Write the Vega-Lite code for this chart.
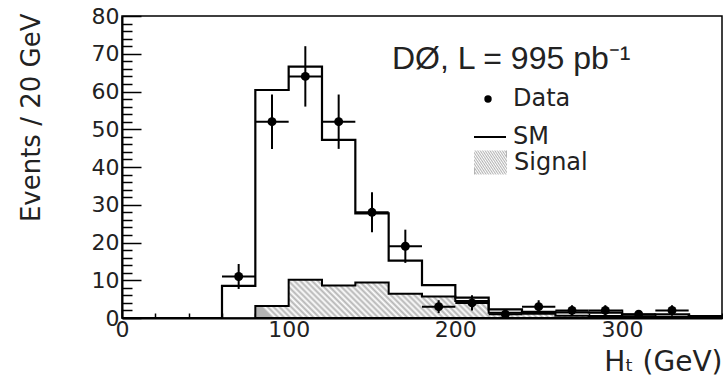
{
  "$schema": "https://vega.github.io/schema/vega-lite/v6.json",
  "width": 600,
  "height": 302,
  "autosize": {"type": "none"},
  "padding": {"left": 122, "top": 16, "right": 1, "bottom": 63},
  "background": "white",
  "config": {
    "view": {"stroke": "black", "strokeWidth": 1.5},
    "axis": {
      "grid": false,
      "domainColor": "black",
      "domainWidth": 2,
      "tickColor": "black",
      "tickWidth": 1.5,
      "labelFont": "DejaVu Sans",
      "labelFontSize": 22,
      "labelColor": "#222",
      "titleFont": "DejaVu Sans",
      "titleFontWeight": "normal",
      "titleColor": "#222",
      "labelOverlap": false,
      "labelFlush": false
    },
    "legend": {"padding": 0, "titleLimit": 0}
  },
  "datasets": {
    "signal": [
      {"x": 80, "v": 3.2}, {"x": 100, "v": 10.1}, {"x": 120, "v": 8.6}, {"x": 140, "v": 9.4},
      {"x": 160, "v": 6.4}, {"x": 180, "v": 5.7}, {"x": 200, "v": 4.5}, {"x": 220, "v": 1.4},
      {"x": 240, "v": 1.1}, {"x": 260, "v": 0.6}, {"x": 280, "v": 0.5}, {"x": 300, "v": 0.3},
      {"x": 320, "v": 0.3}, {"x": 340, "v": 0.2}, {"x": 360, "v": 0.2}
    ],
    "sm": [
      {"x": 0, "v": 0}, {"x": 60, "v": 8.5}, {"x": 80, "v": 60.4}, {"x": 100, "v": 66.6},
      {"x": 120, "v": 47.2}, {"x": 140, "v": 27.7}, {"x": 160, "v": 15.2}, {"x": 180, "v": 8.7},
      {"x": 200, "v": 5.4}, {"x": 220, "v": 2.3}, {"x": 240, "v": 1.6}, {"x": 260, "v": 1.5},
      {"x": 280, "v": 1.4}, {"x": 300, "v": 0.9}, {"x": 320, "v": 1.0}, {"x": 340, "v": 0.5},
      {"x": 360, "v": 0.5}
    ],
    "pts": [
      {"x": 70, "xlo": 60, "xhi": 80, "n": 11, "lo": 7.7, "hi": 14.3},
      {"x": 90, "xlo": 80, "xhi": 100, "n": 52, "lo": 44.8, "hi": 59.2},
      {"x": 110, "xlo": 100, "xhi": 120, "n": 64, "lo": 56, "hi": 72},
      {"x": 130, "xlo": 120, "xhi": 140, "n": 52, "lo": 44.8, "hi": 59.2},
      {"x": 150, "xlo": 140, "xhi": 160, "n": 28, "lo": 22.7, "hi": 33.3},
      {"x": 170, "xlo": 160, "xhi": 180, "n": 19, "lo": 14.6, "hi": 23.4},
      {"x": 190, "xlo": 180, "xhi": 200, "n": 3, "lo": 1.3, "hi": 4.7},
      {"x": 210, "xlo": 200, "xhi": 220, "n": 4, "lo": 2, "hi": 6},
      {"x": 230, "xlo": 220, "xhi": 240, "n": 1, "lo": 0, "hi": 2},
      {"x": 250, "xlo": 240, "xhi": 260, "n": 3, "lo": 1.3, "hi": 4.7},
      {"x": 270, "xlo": 260, "xhi": 280, "n": 2, "lo": 0.6, "hi": 3.4},
      {"x": 290, "xlo": 280, "xhi": 300, "n": 2, "lo": 0.6, "hi": 3.4},
      {"x": 310, "xlo": 300, "xhi": 320, "n": 1, "lo": 0, "hi": 2},
      {"x": 330, "xlo": 320, "xhi": 340, "n": 2, "lo": 0.6, "hi": 3.4}
    ]
  },
  "layer": [
    {
      "data": {"name": "signal"},
      "mark": {
        "type": "area",
        "interpolate": "step-after",
        "stroke": "black",
        "strokeWidth": 2,
        "fill": {
          "gradient": "linear", "x1": 0, "y1": 0.541, "x2": 1, "y2": 0.459,
          "stops": [
            {"offset": 0, "color": "#b4b4b4"}, {"offset": 0.00625, "color": "#ffffff"}, {"offset": 0.0125, "color": "#b4b4b4"}, {"offset": 0.01875, "color": "#ffffff"},
            {"offset": 0.025, "color": "#b4b4b4"}, {"offset": 0.03125, "color": "#ffffff"}, {"offset": 0.0375, "color": "#b4b4b4"}, {"offset": 0.04375, "color": "#ffffff"},
            {"offset": 0.05, "color": "#b4b4b4"}, {"offset": 0.05625, "color": "#ffffff"}, {"offset": 0.0625, "color": "#b4b4b4"}, {"offset": 0.06875, "color": "#ffffff"},
            {"offset": 0.075, "color": "#b4b4b4"}, {"offset": 0.08125, "color": "#ffffff"}, {"offset": 0.0875, "color": "#b4b4b4"}, {"offset": 0.09375, "color": "#ffffff"},
            {"offset": 0.1, "color": "#b4b4b4"}, {"offset": 0.10625, "color": "#ffffff"}, {"offset": 0.1125, "color": "#b4b4b4"}, {"offset": 0.11875, "color": "#ffffff"},
            {"offset": 0.125, "color": "#b4b4b4"}, {"offset": 0.13125, "color": "#ffffff"}, {"offset": 0.1375, "color": "#b4b4b4"}, {"offset": 0.14375, "color": "#ffffff"},
            {"offset": 0.15, "color": "#b4b4b4"}, {"offset": 0.15625, "color": "#ffffff"}, {"offset": 0.1625, "color": "#b4b4b4"}, {"offset": 0.16875, "color": "#ffffff"},
            {"offset": 0.175, "color": "#b4b4b4"}, {"offset": 0.18125, "color": "#ffffff"}, {"offset": 0.1875, "color": "#b4b4b4"}, {"offset": 0.19375, "color": "#ffffff"},
            {"offset": 0.2, "color": "#b4b4b4"}, {"offset": 0.20625, "color": "#ffffff"}, {"offset": 0.2125, "color": "#b4b4b4"}, {"offset": 0.21875, "color": "#ffffff"},
            {"offset": 0.225, "color": "#b4b4b4"}, {"offset": 0.23125, "color": "#ffffff"}, {"offset": 0.2375, "color": "#b4b4b4"}, {"offset": 0.24375, "color": "#ffffff"},
            {"offset": 0.25, "color": "#b4b4b4"}, {"offset": 0.25625, "color": "#ffffff"}, {"offset": 0.2625, "color": "#b4b4b4"}, {"offset": 0.26875, "color": "#ffffff"},
            {"offset": 0.275, "color": "#b4b4b4"}, {"offset": 0.28125, "color": "#ffffff"}, {"offset": 0.2875, "color": "#b4b4b4"}, {"offset": 0.29375, "color": "#ffffff"},
            {"offset": 0.3, "color": "#b4b4b4"}, {"offset": 0.30625, "color": "#ffffff"}, {"offset": 0.3125, "color": "#b4b4b4"}, {"offset": 0.31875, "color": "#ffffff"},
            {"offset": 0.325, "color": "#b4b4b4"}, {"offset": 0.33125, "color": "#ffffff"}, {"offset": 0.3375, "color": "#b4b4b4"}, {"offset": 0.34375, "color": "#ffffff"},
            {"offset": 0.35, "color": "#b4b4b4"}, {"offset": 0.35625, "color": "#ffffff"}, {"offset": 0.3625, "color": "#b4b4b4"}, {"offset": 0.36875, "color": "#ffffff"},
            {"offset": 0.375, "color": "#b4b4b4"}, {"offset": 0.38125, "color": "#ffffff"}, {"offset": 0.3875, "color": "#b4b4b4"}, {"offset": 0.39375, "color": "#ffffff"},
            {"offset": 0.4, "color": "#b4b4b4"}, {"offset": 0.40625, "color": "#ffffff"}, {"offset": 0.4125, "color": "#b4b4b4"}, {"offset": 0.41875, "color": "#ffffff"},
            {"offset": 0.425, "color": "#b4b4b4"}, {"offset": 0.43125, "color": "#ffffff"}, {"offset": 0.4375, "color": "#b4b4b4"}, {"offset": 0.44375, "color": "#ffffff"},
            {"offset": 0.45, "color": "#b4b4b4"}, {"offset": 0.45625, "color": "#ffffff"}, {"offset": 0.4625, "color": "#b4b4b4"}, {"offset": 0.46875, "color": "#ffffff"},
            {"offset": 0.475, "color": "#b4b4b4"}, {"offset": 0.48125, "color": "#ffffff"}, {"offset": 0.4875, "color": "#b4b4b4"}, {"offset": 0.49375, "color": "#ffffff"},
            {"offset": 0.5, "color": "#b4b4b4"}, {"offset": 0.50625, "color": "#ffffff"}, {"offset": 0.5125, "color": "#b4b4b4"}, {"offset": 0.51875, "color": "#ffffff"},
            {"offset": 0.525, "color": "#b4b4b4"}, {"offset": 0.53125, "color": "#ffffff"}, {"offset": 0.5375, "color": "#b4b4b4"}, {"offset": 0.54375, "color": "#ffffff"},
            {"offset": 0.55, "color": "#b4b4b4"}, {"offset": 0.55625, "color": "#ffffff"}, {"offset": 0.5625, "color": "#b4b4b4"}, {"offset": 0.56875, "color": "#ffffff"},
            {"offset": 0.575, "color": "#b4b4b4"}, {"offset": 0.58125, "color": "#ffffff"}, {"offset": 0.5875, "color": "#b4b4b4"}, {"offset": 0.59375, "color": "#ffffff"},
            {"offset": 0.6, "color": "#b4b4b4"}, {"offset": 0.60625, "color": "#ffffff"}, {"offset": 0.6125, "color": "#b4b4b4"}, {"offset": 0.61875, "color": "#ffffff"},
            {"offset": 0.625, "color": "#b4b4b4"}, {"offset": 0.63125, "color": "#ffffff"}, {"offset": 0.6375, "color": "#b4b4b4"}, {"offset": 0.64375, "color": "#ffffff"},
            {"offset": 0.65, "color": "#b4b4b4"}, {"offset": 0.65625, "color": "#ffffff"}, {"offset": 0.6625, "color": "#b4b4b4"}, {"offset": 0.66875, "color": "#ffffff"},
            {"offset": 0.675, "color": "#b4b4b4"}, {"offset": 0.68125, "color": "#ffffff"}, {"offset": 0.6875, "color": "#b4b4b4"}, {"offset": 0.69375, "color": "#ffffff"},
            {"offset": 0.7, "color": "#b4b4b4"}, {"offset": 0.70625, "color": "#ffffff"}, {"offset": 0.7125, "color": "#b4b4b4"}, {"offset": 0.71875, "color": "#ffffff"},
            {"offset": 0.725, "color": "#b4b4b4"}, {"offset": 0.73125, "color": "#ffffff"}, {"offset": 0.7375, "color": "#b4b4b4"}, {"offset": 0.74375, "color": "#ffffff"},
            {"offset": 0.75, "color": "#b4b4b4"}, {"offset": 0.75625, "color": "#ffffff"}, {"offset": 0.7625, "color": "#b4b4b4"}, {"offset": 0.76875, "color": "#ffffff"},
            {"offset": 0.775, "color": "#b4b4b4"}, {"offset": 0.78125, "color": "#ffffff"}, {"offset": 0.7875, "color": "#b4b4b4"}, {"offset": 0.79375, "color": "#ffffff"},
            {"offset": 0.8, "color": "#b4b4b4"}, {"offset": 0.80625, "color": "#ffffff"}, {"offset": 0.8125, "color": "#b4b4b4"}, {"offset": 0.81875, "color": "#ffffff"},
            {"offset": 0.825, "color": "#b4b4b4"}, {"offset": 0.83125, "color": "#ffffff"}, {"offset": 0.8375, "color": "#b4b4b4"}, {"offset": 0.84375, "color": "#ffffff"},
            {"offset": 0.85, "color": "#b4b4b4"}, {"offset": 0.85625, "color": "#ffffff"}, {"offset": 0.8625, "color": "#b4b4b4"}, {"offset": 0.86875, "color": "#ffffff"},
            {"offset": 0.875, "color": "#b4b4b4"}, {"offset": 0.88125, "color": "#ffffff"}, {"offset": 0.8875, "color": "#b4b4b4"}, {"offset": 0.89375, "color": "#ffffff"},
            {"offset": 0.9, "color": "#b4b4b4"}, {"offset": 0.90625, "color": "#ffffff"}, {"offset": 0.9125, "color": "#b4b4b4"}, {"offset": 0.91875, "color": "#ffffff"},
            {"offset": 0.925, "color": "#b4b4b4"}, {"offset": 0.93125, "color": "#ffffff"}, {"offset": 0.9375, "color": "#b4b4b4"}, {"offset": 0.94375, "color": "#ffffff"},
            {"offset": 0.95, "color": "#b4b4b4"}, {"offset": 0.95625, "color": "#ffffff"}, {"offset": 0.9625, "color": "#b4b4b4"}, {"offset": 0.96875, "color": "#ffffff"},
            {"offset": 0.975, "color": "#b4b4b4"}, {"offset": 0.98125, "color": "#ffffff"}, {"offset": 0.9875, "color": "#b4b4b4"}, {"offset": 0.99375, "color": "#ffffff"},
            {"offset": 1, "color": "#b4b4b4"}
          ]
        }
      },
      "encoding": {
        "x": {
          "field": "x", "type": "quantitative",
          "scale": {"domain": [0, 360], "nice": false, "zero": false},
          "axis": {
            "title": "Hₜ (GeV)",
            "values": [0, 20, 40, 60, 80, 100, 120, 140, 160, 180, 200, 220, 240, 260, 280, 300, 320, 340, 360],
            "tickCount": 100,
            "labelExpr": "datum.value % 100 === 0 ? datum.label : ''",
            "labelOverlap": false,
            "labelFlush": false,
            "tickSize": -9,
            "labelPadding": 10,
            "tickDash": {"condition": {"test": "datum.value % 100 === 0", "value": []}, "value": [5, 40]},
            "titleFontSize": 28,
            "titleAlign": "right",
            "titleAnchor": "end",
            "titleX": 600,
            "titleY": 52,
            "titleBaseline": "alphabetic"
          }
        },
        "y": {
          "field": "v", "type": "quantitative",
          "scale": {"domain": [0, 80], "nice": false},
          "axis": {
            "title": "Events / 20 GeV",
            "values": [0, 2, 4, 6, 8, 10, 12, 14, 16, 18, 20, 22, 24, 26, 28, 30, 32, 34, 36, 38, 40, 42, 44, 46, 48, 50, 52, 54, 56, 58, 60, 62, 64, 66, 68, 70, 72, 74, 76, 78, 80],
            "tickCount": 100,
            "labelExpr": "datum.value % 10 === 0 ? datum.label : ''",
            "labelOverlap": false,
            "labelFlush": false,
            "tickSize": -19,
            "labelPadding": 22,
            "tickDash": {"condition": {"test": "datum.value % 10 === 0", "value": []}, "value": [10, 60]},
            "titleFontSize": 26,
            "titleAngle": 270,
            "titleAlign": "right",
            "titleBaseline": "middle",
            "titleX": -91,
            "titleY": -3
          }
        },
        "opacity": {
          "datum": "Signal", "type": "nominal",
          "scale": {"range": [1]},
          "legend": {
            "orient": "none",
            "legendX": 351,
            "legendY": 129,
            "title": null,
            "symbolType": "M-1,-0.73H1V0.73H-1Z",
            "symbolSize": 1089,
            "symbolStrokeColor": "black",
            "symbolStrokeWidth": 1.5,
            "symbolOpacity": 1,
            "labelFont": "DejaVu Sans",
            "labelFontSize": 24,
            "labelColor": "#222",
            "labelOffset": 6
          }
        }
      }
    },
    {
      "data": {"name": "sm"},
      "mark": {"type": "line", "interpolate": "step-after", "color": "black", "strokeWidth": 2.2},
      "encoding": {
        "x": {"field": "x", "type": "quantitative"},
        "y": {"field": "v", "type": "quantitative"},
        "color": {
          "datum": "SM", "type": "nominal",
          "scale": {"range": ["black"]},
          "legend": {
            "orient": "none",
            "legendX": 351,
            "legendY": 104,
            "title": null,
            "symbolType": "stroke",
            "symbolSize": 1024,
            "symbolStrokeWidth": 2,
            "labelFont": "DejaVu Sans",
            "labelFontSize": 24,
            "labelColor": "#222",
            "labelOffset": 6
          }
        }
      }
    },
    {
      "data": {"name": "pts"},
      "mark": {"type": "rule", "color": "black", "strokeWidth": 2},
      "encoding": {
        "x": {"field": "x", "type": "quantitative"},
        "y": {"field": "lo", "type": "quantitative"},
        "y2": {"field": "hi"}
      }
    },
    {
      "data": {"name": "pts"},
      "mark": {"type": "rule", "color": "black", "strokeWidth": 2},
      "encoding": {
        "x": {"field": "xlo", "type": "quantitative"},
        "x2": {"field": "xhi"},
        "y": {"field": "n", "type": "quantitative"}
      }
    },
    {
      "data": {"name": "pts"},
      "mark": {"type": "point", "filled": true, "size": 80, "color": "black", "opacity": 1},
      "encoding": {
        "x": {"field": "x", "type": "quantitative"},
        "y": {"field": "n", "type": "quantitative"},
        "shape": {
          "datum": "Data", "type": "nominal",
          "scale": {"range": ["circle"]},
          "legend": {
            "orient": "none",
            "legendX": 354,
            "legendY": 71,
            "title": null,
            "symbolSize": 55,
            "labelFont": "DejaVu Sans",
            "labelFontSize": 24,
            "labelColor": "#222",
            "labelOffset": 13
          }
        }
      }
    },
    {
      "data": {"values": [{"note": "DØ, L = 995 pb⁻¹"}]},
      "mark": {"type": "text", "align": "left", "baseline": "alphabetic", "font": "Liberation Sans", "fontSize": 32, "color": "#222"},
      "encoding": {
        "x": {"datum": 162, "type": "quantitative"},
        "y": {"datum": 66, "type": "quantitative"},
        "text": {"field": "note"}
      }
    }
  ]
}
